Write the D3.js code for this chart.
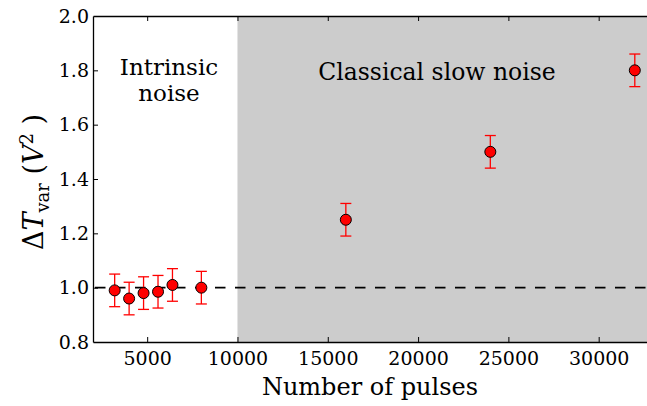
<!DOCTYPE html>
<html><head><meta charset="utf-8">
<script src="https://cdn.jsdelivr.net/npm/d3@7"></script>
<style>body{margin:0;background:#fff}svg{display:block}text{font-family:"DejaVu Serif",serif}</style>
</head><body><svg id="c" width="647" height="406"></svg>
<script>
const pulses = [3200, 4000, 4800, 5600, 6400, 8000, 16000, 24000, 32000];
const dTvar = [0.99, 0.96, 0.98, 0.985, 1.01, 1.0, 1.25, 1.5, 1.8];
const errs = [0.06, 0.06, 0.06, 0.06, 0.06, 0.06, 0.06, 0.06, 0.06];
const xTicks = [5000, 10000, 15000, 20000, 25000, 30000];
const yTicks = [0.8, 1.0, 1.2, 1.4, 1.6, 1.8, 2.0];
const regionStart = 10000;
const refLevel = 1.0;

const svg = d3.select("#c");
const L = 93, T = 16, B = 342;
const x = d3.scaleLinear().domain([2000, 33000]).range([L, L + 31000 * 90.3 / 5000]);
const y = d3.scaleLinear().domain([0.8, 2.0]).range([B, T]);
const R = x.range()[1];

svg.append("rect").attr("x", x(regionStart)).attr("y", T).attr("width", R - x(regionStart)).attr("height", B - T).attr("fill", "#cccccc");

svg.append("line").attr("x1", L + 2).attr("x2", R).attr("y1", y(refLevel)).attr("y2", y(refLevel))
  .attr("stroke", "#000").attr("stroke-width", 1.8).attr("stroke-dasharray", "10.5,9.5");

// axes
const xb = svg.append("g").attr("transform", `translate(0,${B})`)
  .call(d3.axisBottom(x).tickValues(xTicks).tickFormat(d3.format("d")).tickSizeInner(-5).tickSizeOuter(0).tickPadding(9.5));
const xt = svg.append("g").attr("transform", `translate(0,${T})`)
  .call(d3.axisTop(x).tickValues(xTicks).tickFormat("").tickSizeInner(-5).tickSizeOuter(0));
const yl = svg.append("g").attr("transform", `translate(${L},0)`)
  .call(d3.axisLeft(y).tickValues(yTicks).tickFormat(d3.format(".1f")).tickSizeInner(-5).tickSizeOuter(0).tickPadding(4));
[xb, xt, yl].forEach(g => {
  g.selectAll(".domain").attr("stroke", "#000").attr("stroke-width", 1.3);
  g.selectAll(".tick line").attr("stroke", "#000").attr("stroke-width", 1);
  g.selectAll("text").attr("font-size", 19).attr("fill", "#000").style("font-family", "DejaVu Serif");
});
yl.selectAll(".tick").filter(d => d === 0.8 || d === 2.0).select("line").remove();

// error bars
const eg = svg.append("g");
pulses.forEach((p, i) => {
  const cx = x(p), y1 = y(dTvar[i] + errs[i]), y2 = y(dTvar[i] - errs[i]);
  eg.append("line").attr("x1", cx).attr("x2", cx).attr("y1", y1).attr("y2", y2).attr("stroke", "red").attr("stroke-width", 1.3);
  [y1, y2].forEach(yy => eg.append("line").attr("x1", cx - 5.5).attr("x2", cx + 5.5).attr("y1", yy).attr("y2", yy).attr("stroke", "red").attr("stroke-width", 1.3));
});
svg.append("g").selectAll("circle").data(pulses).join("circle")
  .attr("cx", d => x(d)).attr("cy", (d, i) => y(dTvar[i])).attr("r", 5.5)
  .attr("fill", "red").attr("stroke", "#000").attr("stroke-width", 1);

// annotations
const ann = svg.append("text").attr("x", 169).attr("y", 75).attr("text-anchor", "middle").attr("font-size", 23);
ann.append("tspan").attr("x", 169).text("Intrinsic");
ann.append("tspan").attr("x", 169).attr("dy", 25.5).text("noise");
svg.append("text").attr("x", 437).attr("y", 80).attr("text-anchor", "middle").attr("font-size", 23.5).text("Classical slow noise");

svg.append("text").attr("x", 370).attr("y", 395).attr("text-anchor", "middle").attr("font-size", 24).text("Number of pulses");

const yt = svg.append("text").attr("transform", "translate(43,182) rotate(-90)").attr("text-anchor", "middle").attr("font-size", 27);
yt.append("tspan").text("Δ");
yt.append("tspan").attr("font-style", "italic").text("T");
yt.append("tspan").attr("font-size", 18).attr("dy", 6).text("var");
yt.append("tspan").attr("dy", -6).text(" (");
yt.append("tspan").attr("font-style", "italic").text("V");
yt.append("tspan").attr("font-size", 18).attr("dy", -10).text("2");
yt.append("tspan").attr("dy", 10).text(" )");
</script></body></html>
